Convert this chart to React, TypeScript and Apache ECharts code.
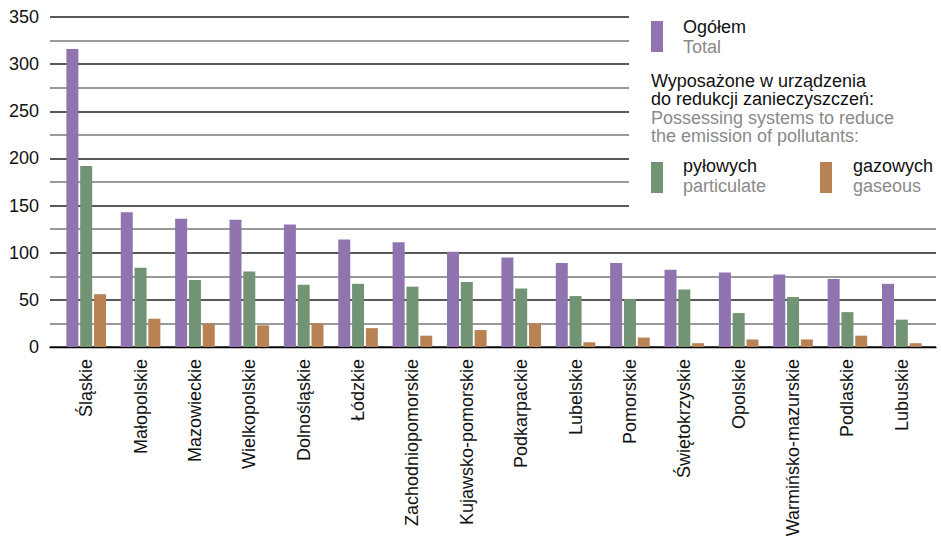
import React, { useEffect, useRef } from "react";
import * as echarts from "echarts";

const categories = [
  "Śląskie", "Małopolskie", "Mazowieckie", "Wielkopolskie", "Dolnośląskie", "Łódzkie",
  "Zachodniopomorskie", "Kujawsko-pomorskie", "Podkarpackie", "Lubelskie", "Pomorskie",
  "Świętokrzyskie", "Opolskie", "Warmińsko-mazurskie", "Podlaskie", "Lubuskie",
];
const totalValues = [316, 143, 136, 135, 130, 114, 111, 101, 95, 89, 89, 82, 79, 77, 72, 67];
const particulateValues = [192, 84, 71, 80, 66, 67, 64, 69, 62, 54, 51, 61, 36, 53, 37, 29];
const gaseousValues = [56, 30, 25, 23, 25, 20, 12, 18, 25, 5, 10, 4, 8, 8, 12, 4];
const yTicks = [0, 50, 100, 150, 200, 250, 300, 350];

const FONT = "'Liberation Sans', Arial, sans-serif";
const PURPLE = "#8F74B0";
const GREEN = "#729474";
const ORANGE = "#B98253";
const GRAY = "#8a8a8a";
const DARK = "#111";

export default function App() {
  const ref = useRef<HTMLDivElement>(null);
  useEffect(() => {
    if (!ref.current) return;
    const chart = echarts.init(ref.current, null, { renderer: "svg" });
    const txt = (x: number, y: number, text: string, color: string) => ({
      type: "text", x, y, z: 101,
      style: { text, fill: color, font: `18px ${FONT}`, textVerticalAlign: "middle", lineHeight: 18.5 },
    });
    chart.setOption({
      animation: false,
      textStyle: { fontFamily: FONT },
      grid: [
        { left: 50, right: 5, top: 17, height: 330 },
        { left: 59, right: 12, top: 17, height: 330 },
      ],
      xAxis: [
        {
          gridIndex: 0, type: "value", min: 0, max: 1,
          axisLine: { show: true, lineStyle: { color: "#000", width: 1.3 } },
          axisTick: { show: false }, axisLabel: { show: false }, splitLine: { show: false },
        },
        {
          gridIndex: 1, type: "category", data: categories,
          axisLine: { show: false }, axisTick: { show: false },
          axisLabel: { rotate: 90, fontSize: 18, color: DARK, margin: 12, interval: 0, fontFamily: FONT },
        },
      ],
      yAxis: [
        {
          gridIndex: 0, type: "value", min: 0, max: 350, interval: 25,
          axisLine: { show: false }, axisTick: { show: false },
          axisLabel: {
            fontSize: 18, color: DARK, margin: 11, fontFamily: FONT,
            formatter: (v: number) => (yTicks.includes(v) ? String(v) : ""),
          },
          splitLine: { show: true, lineStyle: { color: ["#222222", "#777777"], width: 1.5 } },
        },
        { gridIndex: 1, type: "value", min: 0, max: 350, show: false, splitLine: { show: false } },
      ],
      series: [
        { type: "bar", name: "Ogółem", xAxisIndex: 1, yAxisIndex: 1, data: totalValues, barWidth: 12, barGap: "15%", itemStyle: { color: PURPLE } },
        { type: "bar", name: "pyłowych", xAxisIndex: 1, yAxisIndex: 1, data: particulateValues, barWidth: 12, barGap: "15%", itemStyle: { color: GREEN } },
        { type: "bar", name: "gazowych", xAxisIndex: 1, yAxisIndex: 1, data: gaseousValues, barWidth: 12, barGap: "15%", itemStyle: { color: ORANGE } },
      ],
      graphic: [
        { type: "rect", z: 100, shape: { x: 629, y: 0, width: 312, height: 216 }, style: { fill: "#fff" } },
        { type: "rect", z: 101, shape: { x: 651, y: 21, width: 12, height: 31 }, style: { fill: PURPLE } },
        txt(683, 27, "Ogółem", DARK),
        txt(683, 47, "Total", GRAY),
        txt(651, 90, "Wyposażone w urządzenia\ndo redukcji zanieczyszczeń:", DARK),
        txt(651, 127, "Possessing systems to reduce\nthe emission of pollutants:", GRAY),
        { type: "rect", z: 101, shape: { x: 651, y: 162, width: 12, height: 31 }, style: { fill: GREEN } },
        txt(683, 166, "pyłowych", DARK),
        txt(683, 185.5, "particulate", GRAY),
        { type: "rect", z: 101, shape: { x: 820, y: 162, width: 12, height: 31 }, style: { fill: ORANGE } },
        txt(853, 166, "gazowych", DARK),
        txt(853, 185.5, "gaseous", GRAY),
      ],
    });
    return () => chart.dispose();
  }, []);
  return <div ref={ref} style={{ position: "absolute", left: 0, top: 0, width: 941, height: 540 }} />;
}
